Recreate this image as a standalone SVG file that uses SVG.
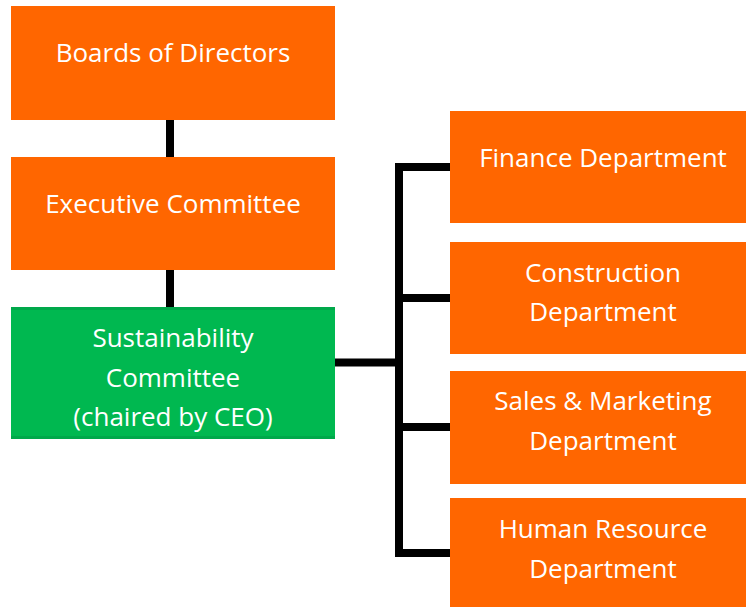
<svg xmlns="http://www.w3.org/2000/svg" width="746" height="607" viewBox="0 0 746 607">
<style>
.o{fill:#FF6600}
.g{fill:#00B850}
.t{font-family:"Open Sans","Liberation Sans",sans-serif;font-size:26px;fill:#FFFFFF;text-anchor:middle}
.c{stroke:#000;stroke-width:8;fill:none}
</style>
<rect width="746" height="607" fill="#fff"/>
<g id="connectors">
<line class="c" x1="170" y1="120" x2="170" y2="157"/>
<line class="c" x1="170" y1="270" x2="170" y2="307"/>
<line class="c" x1="335" y1="362.5" x2="399" y2="362.5"/>
<polyline class="c" points="450,167 399,167 399,553 450,553"/>
<line class="c" x1="399" y1="298" x2="450" y2="298"/>
<line class="c" x1="399" y1="427" x2="450" y2="427"/>
</g>
<g id="board"><rect class="o" x="11" y="6" width="324" height="114"/><text class="t" x="173" y="62">Boards of Directors</text></g>
<g id="exec"><rect class="o" x="11" y="157" width="324" height="113"/><text class="t" x="173" y="213">Executive Committee</text></g>
<g id="sust"><rect class="g" x="11" y="307" width="324" height="132"/><rect x="11" y="307" width="324" height="3" fill="#00A84A"/><rect x="11" y="436" width="324" height="3" fill="#00A84A"/><text class="t" x="173" y="347">Sustainability</text><text class="t" x="173" y="387">Committee</text><text class="t" x="173" y="426">(chaired by CEO)</text></g>
<g id="finance"><rect class="o" x="450" y="111" width="296" height="112"/><text class="t" x="603" y="167">Finance Department</text></g>
<g id="construction"><rect class="o" x="450" y="242" width="296" height="112"/><text class="t" x="603" y="282">Construction</text><text class="t" x="603" y="321">Department</text></g>
<g id="sales"><rect class="o" x="450" y="371" width="296" height="113"/><text class="t" x="603" y="410">Sales &amp; Marketing</text><text class="t" x="603" y="450">Department</text></g>
<g id="hr"><rect class="o" x="450" y="498" width="296" height="109"/><text class="t" x="603" y="538">Human Resource</text><text class="t" x="603" y="578">Department</text></g>
</svg>
